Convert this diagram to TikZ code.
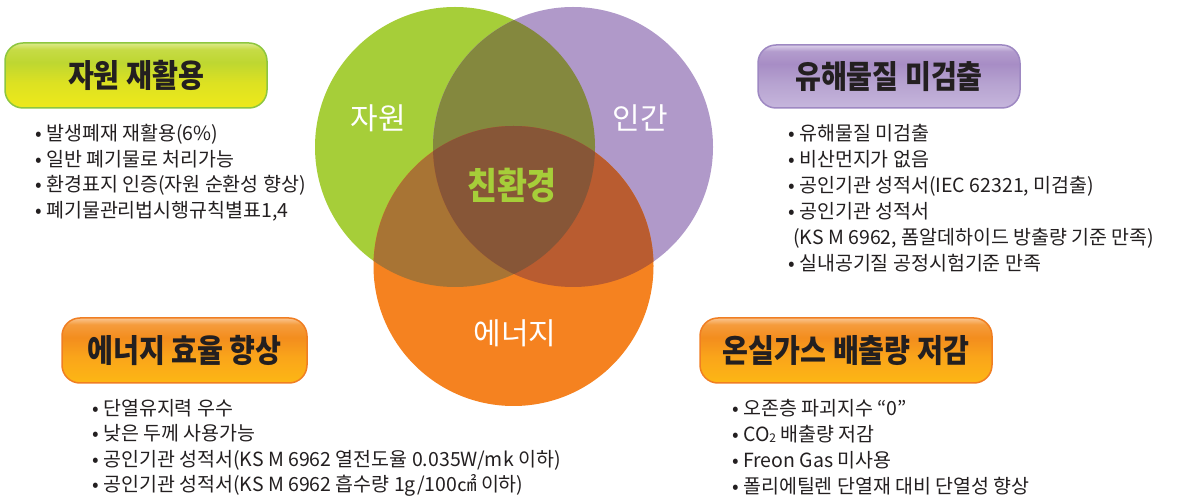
\documentclass[tikz,border=0pt]{standalone}
\usepackage{fontspec}
\setmainfont{Noto Sans CJK KR}
\newfontfamily\titlefont[FakeStretch=0.88]{Noto Sans CJK KR}
\definecolor{cG}{HTML}{A6CE39}
\definecolor{cP}{HTML}{B099C9}
\definecolor{cO}{HTML}{F58220}
\definecolor{cGP}{HTML}{84883E}
\definecolor{cGO}{HTML}{A87434}
\definecolor{cPO}{HTML}{B95C30}
\definecolor{cGPO}{HTML}{875637}
\definecolor{gB}{HTML}{EEE91A}
\definecolor{gM2}{HTML}{DCE122}
\definecolor{gM}{HTML}{BED731}
\definecolor{gT2}{HTML}{C6DB45}
\definecolor{gT}{HTML}{DDEA8A}
\definecolor{gBorder}{HTML}{8DC63F}
\definecolor{oB}{HTML}{FDB714}
\definecolor{oM2}{HTML}{FAA51A}
\definecolor{oM}{HTML}{F38D1E}
\definecolor{oT2}{HTML}{F59C3C}
\definecolor{oT}{HTML}{FAC590}
\definecolor{oBorder}{HTML}{F07E22}
\definecolor{pB}{HTML}{C6B6DC}
\definecolor{pM2}{HTML}{B6A2D0}
\definecolor{pM}{HTML}{A78DC5}
\definecolor{pT2}{HTML}{B39CCD}
\definecolor{pT}{HTML}{DCD0EA}
\definecolor{pBorder}{HTML}{9E88C2}
\definecolor{txt}{HTML}{231F20}
\pgfdeclareverticalshading{gshade}{100bp}{color(0bp)=(gB); color(25bp)=(gB); color(45bp)=(gM2); color(60bp)=(gM); color(70bp)=(gT2); color(75bp)=(gT); color(100bp)=(gT)}
\pgfdeclareverticalshading{oshade}{100bp}{color(0bp)=(oB); color(25bp)=(oB); color(45bp)=(oM2); color(60bp)=(oM); color(70bp)=(oT2); color(75bp)=(oT); color(100bp)=(oT)}
\pgfdeclareverticalshading{pshade}{100bp}{color(0bp)=(pB); color(25bp)=(pB); color(45bp)=(pM2); color(60bp)=(pM); color(70bp)=(pT2); color(75bp)=(pT); color(100bp)=(pT)}
\tikzset{
  tbox/.style={rounded corners=18pt, line width=1.5pt, minimum height=65pt, inner sep=0pt,
    text=txt, font=\titlefont\bfseries\fontsize{32}{32}\selectfont},
  vlabel/.style={text=white, inner sep=0pt, font=\fontsize{30}{30}\selectfont},
  bul/.style={anchor=base west, inner sep=0pt, text=txt, font=\fontsize{19.5}{19.5}\selectfont}
}
\begin{document}
\begin{tikzpicture}[x=1pt,y=-1pt]
\fill[white] (0,0) rectangle (1178,502);
\useasboundingbox (0,0) rectangle (1178,502);
% Venn circles
\fill[cG] (455,147) circle[radius=140];
\fill[cP] (573,147) circle[radius=140];
\fill[cO] (513.5,266) circle[radius=140];
\begin{scope}
  \clip (455,147) circle[radius=140];
  \fill[cGP] (573,147) circle[radius=140];
  \fill[cGO] (513.5,266) circle[radius=140];
\end{scope}
\begin{scope}
  \clip (573,147) circle[radius=140];
  \fill[cPO] (513.5,266) circle[radius=140];
  \clip (455,147) circle[radius=140];
  \fill[cGPO] (513.5,266) circle[radius=140];
\end{scope}
\node[vlabel] (lg) at (378,118) {자원};
\node[vlabel] (lp) at (640,118) {인간};
\node[vlabel] (lo) at (515,333) {에너지};
\node[inner sep=0pt, text=cG, font=\titlefont\bfseries\fontsize{37}{37}\selectfont] (lc) at (512,185) {친환경};
% title boxes
\node[tbox, shading=gshade, draw=gBorder, minimum width=262pt] (b1) at (136,75.5) {자원 재활용};
\node[tbox, shading=pshade, draw=pBorder, minimum width=262pt, minimum height=63pt] (b2) at (889,76.5) {유해물질 미검출};
\node[tbox, shading=oshade, draw=oBorder, minimum width=245pt] (b3) at (184.5,350.5) {에너지 효율 향상};
\node[tbox, shading=oshade, draw=oBorder, minimum width=292pt] (b4) at (846,350.5) {온실가스 배출량 저감};
% lists
\node[bul] (a1) at (35,141) {• 발생폐재 재활용(6\%)};
\node[bul] (a2) at (35,166.5) {• 일반 폐기물로 처리가능};
\node[bul] (a3) at (35,192) {• 환경표지 인증(자원 순환성 향상)};
\node[bul] (a4) at (35,217.5) {• 폐기물관리법시행규칙별표1,4};
\node[bul] (c1) at (788,141) {• 유해물질 미검출};
\node[bul] (c2) at (788,167) {• 비산먼지가 없음};
\node[bul] (c3) at (788,193) {• 공인기관 성적서(IEC 62321, 미검출)};
\node[bul] (c4) at (788,219) {• 공인기관 성적서};
\node[bul] (c5) at (793,245) {(KS M 6962, 폼알데하이드 방출량 기준 만족)};
\node[bul] (c6) at (788,271) {• 실내공기질 공정시험기준 만족};
\node[bul] (e1) at (92,415) {• 단열유지력 우수};
\node[bul] (e2) at (92,440.5) {• 낮은 두께 사용가능};
\node[bul] (e3) at (92,466) {• 공인기관 성적서(KS M 6962 열전도율 0.035W/mk 이하)};
\node[bul] (e4) at (92,491.5) {• 공인기관 성적서(KS M 6962 흡수량 1g/100㎠ 이하)};
\node[bul] (h1) at (732,415) {• 오존층 파괴지수 “0”};
\node[bul] (h2) at (732,441) {• CO\raisebox{-0.15ex}{\fontsize{12}{12}\selectfont 2} 배출량 저감};
\node[bul] (h3) at (732,467) {• Freon Gas 미사용};
\node[bul] (h4) at (732,493) {• 폴리에틸렌 단열재 대비 단열성 향상};
\end{tikzpicture}
\end{document}
